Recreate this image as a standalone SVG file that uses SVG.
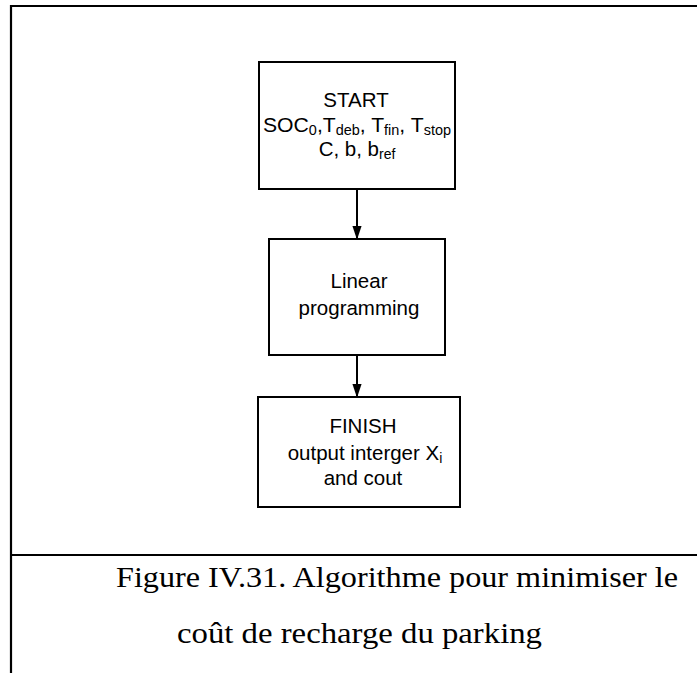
<svg xmlns="http://www.w3.org/2000/svg" width="697" height="673" viewBox="0 0 697 673">
<style>
.frame{fill:none;stroke:#000;stroke-width:2.2}
.box{fill:#fff;stroke:#000;stroke-width:2}
.lbl{font-family:"Liberation Sans",Arial,sans-serif;font-size:20.5px;fill:#000;text-anchor:middle}
.sub{font-size:14px}
.cap{font-family:"Liberation Serif","Times New Roman",serif;font-size:30px;fill:#000}
.conn{stroke:#000;stroke-width:2;fill:none}
</style>
<defs>
<marker id="arr" markerUnits="userSpaceOnUse" markerWidth="14" markerHeight="21" refX="20" refY="7" orient="auto" viewBox="0 0 21 14">
<path d="M0,0 L21,7 L0,14 Z" fill="#000"/>
</marker>
</defs>
<rect width="697" height="673" fill="#fff"/>
<g id="frame">
<path class="frame" d="M11,673 L11,6 L697,6"/>
<path class="frame" d="M11,555 L697,555"/>
</g>
<g id="connectors">
<line class="conn" x1="357" y1="189" x2="357" y2="239" marker-end="url(#arr)"/>
<line class="conn" x1="357" y1="355" x2="357" y2="397" marker-end="url(#arr)"/>
</g>
<g id="start">
<rect class="box" x="259" y="62" width="196" height="127"/>
<text class="lbl" x="356" y="107">START</text>
<text class="lbl" x="357" y="132" textLength="188" lengthAdjust="spacingAndGlyphs">SOC<tspan class="sub" dy="3">0</tspan><tspan dy="-3">,T</tspan><tspan class="sub" dy="3">deb</tspan><tspan dy="-3">, T</tspan><tspan class="sub" dy="3">fin</tspan><tspan dy="-3">, T</tspan><tspan class="sub" dy="3">stop</tspan></text>
<text class="lbl" x="357" y="156">C, b, b<tspan class="sub" dy="3">ref</tspan></text>
</g>
<g id="lp">
<rect class="box" x="269" y="239" width="176" height="116"/>
<text class="lbl" x="359" y="288">Linear</text>
<text class="lbl" x="359" y="315">programming</text>
</g>
<g id="finish">
<rect class="box" x="258" y="397" width="202" height="110"/>
<text class="lbl" x="363" y="433">FINISH</text>
<text class="lbl" x="365" y="460">output interger X<tspan class="sub" dy="3">i</tspan></text>
<text class="lbl" x="363" y="485">and cout</text>
</g>
<g id="caption">
<text class="cap" x="116" y="587" textLength="562" lengthAdjust="spacingAndGlyphs">Figure IV.31. Algorithme pour minimiser le</text>
<text class="cap" x="177" y="643" textLength="365" lengthAdjust="spacingAndGlyphs">coût de recharge du parking</text>
</g>
</svg>
